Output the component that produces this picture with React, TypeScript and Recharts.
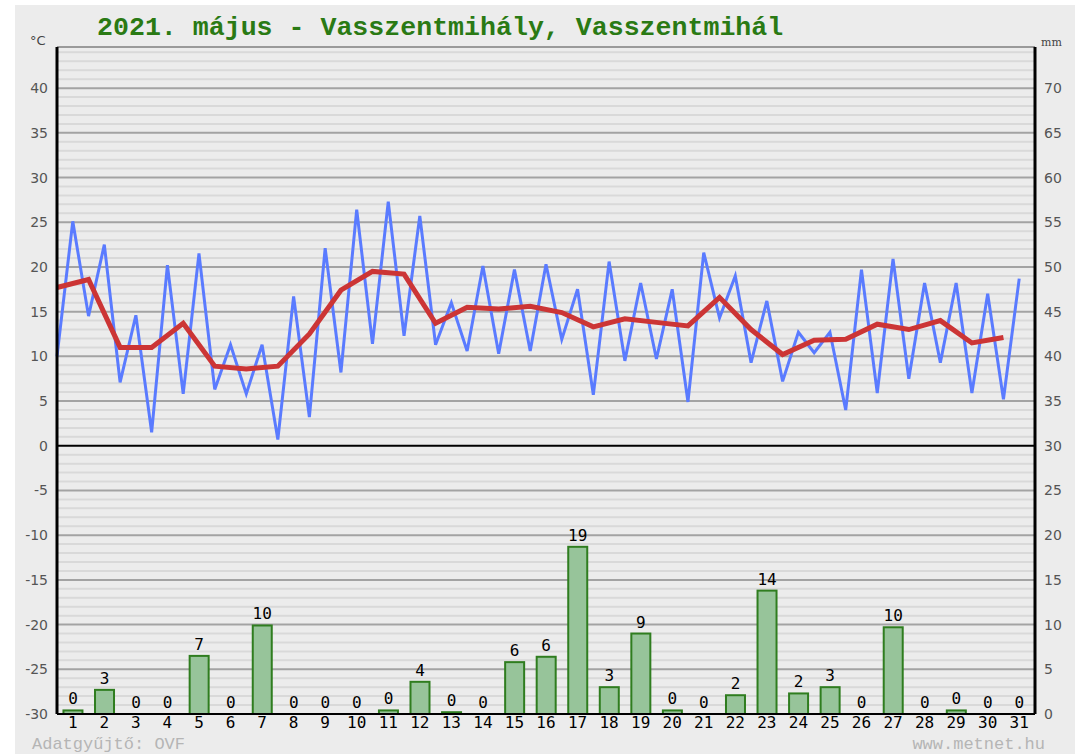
import React from 'react';
import { ComposedChart, Line, Bar, XAxis, YAxis, ReferenceLine, LabelList, CartesianGrid } from 'recharts';

const DAYS = ['1', '2', '3', '4', '5', '6', '7', '8', '9', '10', '11', '12', '13', '14', '15', '16',
  '17', '18', '19', '20', '21', '22', '23', '24', '25', '26', '27', '28', '29', '30', '31'];

// daily minimum (morning) and maximum (afternoon), °C
const MIN_T = [10.0, 14.5, 7.1, 1.5, 5.8, 6.3, 5.8, 0.7, 3.2, 8.2, 11.4, 12.3, 11.3, 10.6, 10.3, 10.6,
  11.9, 5.7, 9.5, 9.7, 4.9, 14.3, 9.3, 7.2, 10.4, 4.0, 5.9, 7.5, 9.3, 5.9, 5.2];
const MAX_T = [25.1, 22.5, 14.6, 20.2, 21.5, 11.3, 11.3, 16.7, 22.1, 26.4, 27.3, 25.7, 16.0, 20.1, 19.7, 20.3,
  17.5, 20.6, 18.2, 17.5, 21.6, 19.0, 16.2, 12.7, 12.7, 19.7, 20.9, 18.2, 18.2, 17.0, 18.7];
// daily mean, °C
const MEAN_T = [17.7, 18.6, 11.0, 11.0, 13.7, 8.9, 8.6, 8.9, 12.5, 17.4, 19.5, 19.2, 13.7, 15.5, 15.3, 15.6,
  14.9, 13.3, 14.2, 13.8, 13.4, 16.6, 13.0, 10.2, 11.8, 11.9, 13.6, 13.0, 14.0, 11.5, 12.1];
// precipitation, mm
const RAIN = [0.4, 2.7, 0, 0, 6.5, 0, 9.9, 0, 0, 0, 0.4, 3.6, 0.2, 0, 5.8, 6.4,
  18.7, 3.0, 9.0, 0.4, 0, 2.1, 13.8, 2.3, 3.0, 0, 9.7, 0, 0.4, 0, 0];

const TEMP_TICKS = [-30, -25, -20, -15, -10, -5, 0, 5, 10, 15, 20, 25, 30, 35, 40];
const MM_TICKS = [0, 5, 10, 15, 20, 25, 30, 35, 40, 45, 50, 55, 60, 65, 70];
const MINOR_LINES = [-29, -28, -27, -26, -24, -23, -22, -21, -19, -18, -17, -16, -14, -13, -12, -11,
  -9, -8, -7, -6, -4, -3, -2, -1, 1, 2, 3, 4, 6, 7, 8, 9, 11, 12, 13, 14, 16, 17, 18, 19,
  21, 22, 23, 24, 26, 27, 28, 29, 31, 32, 33, 34, 36, 37, 38, 39, 41, 42, 43, 44];
const MAJOR_LINES = [-25, -20, -15, -10, -5, 5, 10, 15, 20, 25, 30, 35, 40];

const T_MAX = 44.6;

// two rows per day: the min at the start of the day, the max at midday
const rows: any[] = [];
DAYS.forEach((d, i) => {
  rows.push({ k: 2 * i, temp: MIN_T[i], mean: MEAN_T[i] });
  rows.push({ k: 2 * i + 1, temp: MAX_T[i], rain: RAIN[i] });
});
const dayTicks = DAYS.map((_, i) => 2 * i + 1);

const RainBar = (p: any) => {
  if (p.payload == null || p.payload.rain == null) return <g />;
  const cx = p.x + p.width / 2;
  return (
    <rect x={cx - 9.5} y={p.y} width={19} height={Math.max(p.height || 0, 0)}
      fill="#97c49a" stroke="#2f7d1f" strokeWidth={2} />
  );
};

const RainLabel = (p: any) => {
  if (p.value == null) return null;
  return (
    <text x={p.x + p.width / 2} y={p.y - 6} textAnchor="middle" fill="#000"
      fontSize={16} fontFamily="DejaVu Sans Mono">
      {Math.round(p.value)}
    </text>
  );
};

export default function App() {
  return (
    <div style={{ position: 'absolute', left: 0, top: 0, width: 1075, height: 754, background: '#fff' }}>
      <div style={{ position: 'absolute', left: 15, top: 5, right: 0, bottom: 0, background: '#ececec' }} />
      <div style={{ position: 'absolute', left: 0, top: 0 }}>
        <ComposedChart width={1075} height={754} data={rows}
          margin={{ top: 47, right: 0, bottom: 0, left: 12 }}>
          <CartesianGrid yAxisId="t" vertical={false} horizontalValues={MINOR_LINES}
            stroke="#d9d9d9" strokeWidth={2} />
          <CartesianGrid yAxisId="t" vertical={false} horizontalValues={MAJOR_LINES}
            stroke="#a3a3a3" strokeWidth={2} />
          <XAxis type="number" dataKey="k" domain={[0, 62]} ticks={dayTicks} interval={0}
            tickFormatter={(v: number) => DAYS[(v - 1) / 2]}
            axisLine={{ stroke: '#000', strokeWidth: 2 }} tickLine={false} tickSize={0} tickMargin={3}
            height={40} tick={{ fill: '#000', fontSize: 16, fontFamily: 'DejaVu Sans Mono' }} />
          <YAxis yAxisId="t" domain={[-30, T_MAX]} ticks={TEMP_TICKS} interval={0} width={45}
            axisLine={{ stroke: '#000', strokeWidth: 3 }} tickLine={false} tickSize={0} tickMargin={9}
            tick={{ fill: '#555', fontSize: 14, fontFamily: 'DejaVu Sans' }} allowDataOverflow />
          <YAxis yAxisId="mm" orientation="right" domain={[0, T_MAX + 30]} ticks={MM_TICKS} interval={0} width={40}
            axisLine={{ stroke: '#000', strokeWidth: 3 }} tickLine={false} tickSize={0} tickMargin={9}
            tick={{ fill: '#555', fontSize: 14, fontFamily: 'DejaVu Sans' }} allowDataOverflow />
          <ReferenceLine yAxisId="t" y={T_MAX} stroke="#9a9a9a" strokeWidth={2} />
          <ReferenceLine yAxisId="t" y={0} stroke="#000" strokeWidth={2} />
          <Bar yAxisId="mm" dataKey="rain" shape={RainBar} isAnimationActive={false}>
            <LabelList dataKey="rain" content={RainLabel} />
          </Bar>
          <Line yAxisId="t" dataKey="temp" stroke="#5a7bff" strokeWidth={3} dot={false}
            activeDot={false} isAnimationActive={false} />
          <Line yAxisId="t" dataKey="mean" stroke="#cc3535" strokeWidth={5} dot={false}
            activeDot={false} connectNulls isAnimationActive={false} />
        </ComposedChart>
      </div>
      <svg width={1075} height={754} style={{ position: 'absolute', left: 0, top: 0, pointerEvents: 'none' }}>
        <text x={97} y={35} fill="#2a7a14" fontSize={26.6} fontWeight="bold" fontFamily="Liberation Mono">
          2021. május - Vasszentmihály, Vasszentmihál
        </text>
        <text x={30} y={45} fill="#444" fontSize={13} fontFamily="DejaVu Sans">°C</text>
        <text x={1041} y={46} fill="#444" fontSize={11} fontFamily="DejaVu Serif">mm</text>
        <text x={32} y={749} fill="#b5b5b5" fontSize={17} fontFamily="Liberation Mono">Adatgyűjtő: OVF</text>
        <text x={1045} y={749} textAnchor="end" fill="#b5b5b5" fontSize={17} fontFamily="Liberation Mono">www.metnet.hu</text>
      </svg>
    </div>
  );
}
